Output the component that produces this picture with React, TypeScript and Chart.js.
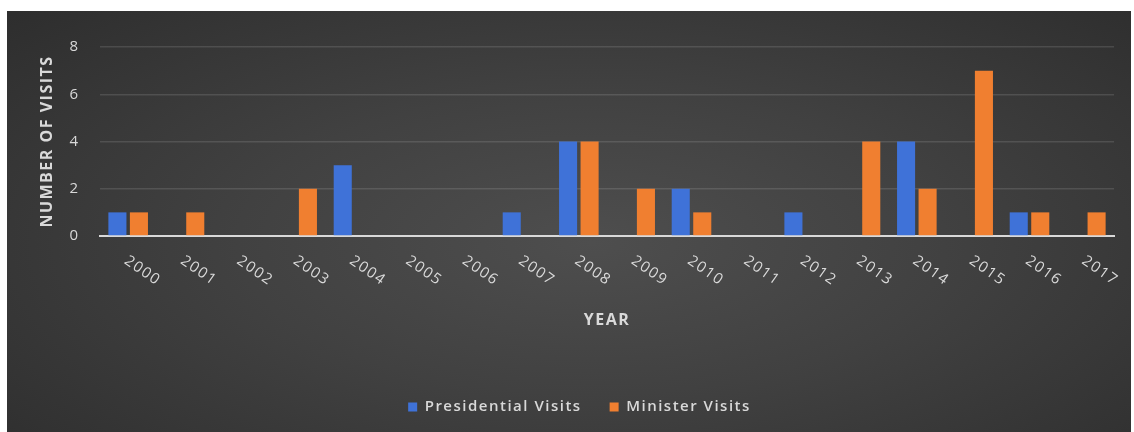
import React, { useEffect, useRef } from "react";
import { Chart, registerables } from "chart.js";

Chart.register(...registerables);

const years = ["2000", "2001", "2002", "2003", "2004", "2005", "2006", "2007", "2008", "2009", "2010", "2011", "2012", "2013", "2014", "2015", "2016", "2017"];
const presidentialVisits = [1, 0, 0, 0, 3, 0, 0, 1, 4, 0, 2, 0, 1, 0, 4, 0, 1, 0];
const ministerVisits = [1, 1, 0, 2, 0, 0, 0, 0, 4, 2, 1, 0, 0, 4, 2, 7, 1, 1];
const seriesNames = ["Presidential Visits", "Minister Visits"];
const yMax = 8;
const yStep = 2;

const W = 1124;
const H = 421;
const FONT = '"Open Sans", "Noto Sans", sans-serif';
const TEXT = "#d9d9d9";
const SPACING = "1.5px";

const letterSpacingPlugin = {
  id: "letterSpacing",
  beforeUpdate(chart: any) {
    chart.ctx.letterSpacing = SPACING;
  },
  afterLayout(chart: any) {
    if (chart.legend) chart.legend.left = 38;
  },
  beforeDraw(chart: any) {
    chart.ctx.letterSpacing = SPACING;
  },
};

const slantedXLabels = {
  id: "slantedXLabels",
  afterDraw(chart: any) {
    const sx = chart.scales.x;
    const ctx = chart.ctx;
    ctx.save();
    ctx.letterSpacing = SPACING;
    ctx.font = `15px ${FONT}`;
    ctx.fillStyle = TEXT;
    ctx.textAlign = "left";
    ctx.textBaseline = "top";
    sx.ticks.forEach((t: any, i: number) => {
      const x = sx.getPixelForTick(i);
      ctx.save();
      ctx.translate(x + 2, sx.top + 17);
      ctx.rotate((35 * Math.PI) / 180);
      ctx.fillText(String(sx.getLabelForValue(t.value)), 0, 0);
      ctx.restore();
    });
    ctx.restore();
  },
};

export default function App() {
  const ref = useRef<HTMLCanvasElement | null>(null);

  useEffect(() => {
    if (!ref.current) return;
    const chart = new Chart(ref.current, {
      type: "bar",
      data: {
        labels: years,
        datasets: [
          {
            label: seriesNames[0],
            data: presidentialVisits,
            backgroundColor: "#3f72d8",
            borderWidth: 0,
            categoryPercentage: 0.764,
            barPercentage: 0.84,
          },
          {
            label: seriesNames[1],
            data: ministerVisits,
            backgroundColor: "#f07f30",
            borderWidth: 0,
            categoryPercentage: 0.764,
            barPercentage: 0.84,
          },
        ],
      },
      options: {
        responsive: false,
        animation: false,
        devicePixelRatio: 1,
        layout: { padding: { top: 36, right: 17, bottom: 7.5, left: 0 } },
        plugins: {
          tooltip: { enabled: false },
          legend: {
            position: "bottom",
            labels: {
              boxWidth: 9,
              boxHeight: 9,
              padding: 28,
              color: TEXT,
              font: { family: FONT, size: 15, weight: "600" },
            },
          },
        },
        scales: {
          x: {
            grid: { display: false },
            border: { display: true, color: "#d9d9d9", width: 2 },
            ticks: { display: false },
            title: {
              display: true,
              text: "YEAR",
              color: TEXT,
              font: { family: FONT, size: 16, weight: "bold" },
              padding: { top: 0, bottom: 41 },
            },
            afterFit(scale: any) {
              scale.height = 135.5;
            },
          },
          y: {
            min: 0,
            max: yMax,
            ticks: {
              stepSize: yStep,
              color: TEXT,
              padding: 20.5,
              font: { family: FONT, size: 15 },
            },
            grid: {
              drawTicks: false,
              color: (c: any) => (c.tick && c.tick.value === 0 ? "rgba(0,0,0,0)" : "rgba(255,255,255,0.12)"),
              lineWidth: 1.5,
            },
            border: { display: false },
            title: {
              display: true,
              text: "NUMBER OF VISITS",
              color: TEXT,
              font: { family: FONT, size: 16, weight: "bold" },
              padding: { top: 31, bottom: 0 },
            },
            afterFit(scale: any) {
              scale.width = 93;
            },
          },
        },
      },
      plugins: [letterSpacingPlugin, slantedXLabels],
    } as any);
    return () => chart.destroy();
  }, []);

  return (
    <div
      style={{
        position: "absolute",
        left: 7,
        top: 11,
        width: W,
        height: H,
        background: "radial-gradient(ellipse 70% 80% at 52% 55%, #4e4e4e 0%, #414141 45%, #2e2e2e 100%)",
      }}
    >
      <canvas ref={ref} width={W} height={H} style={{ display: "block", width: W, height: H }} />
    </div>
  );
}
